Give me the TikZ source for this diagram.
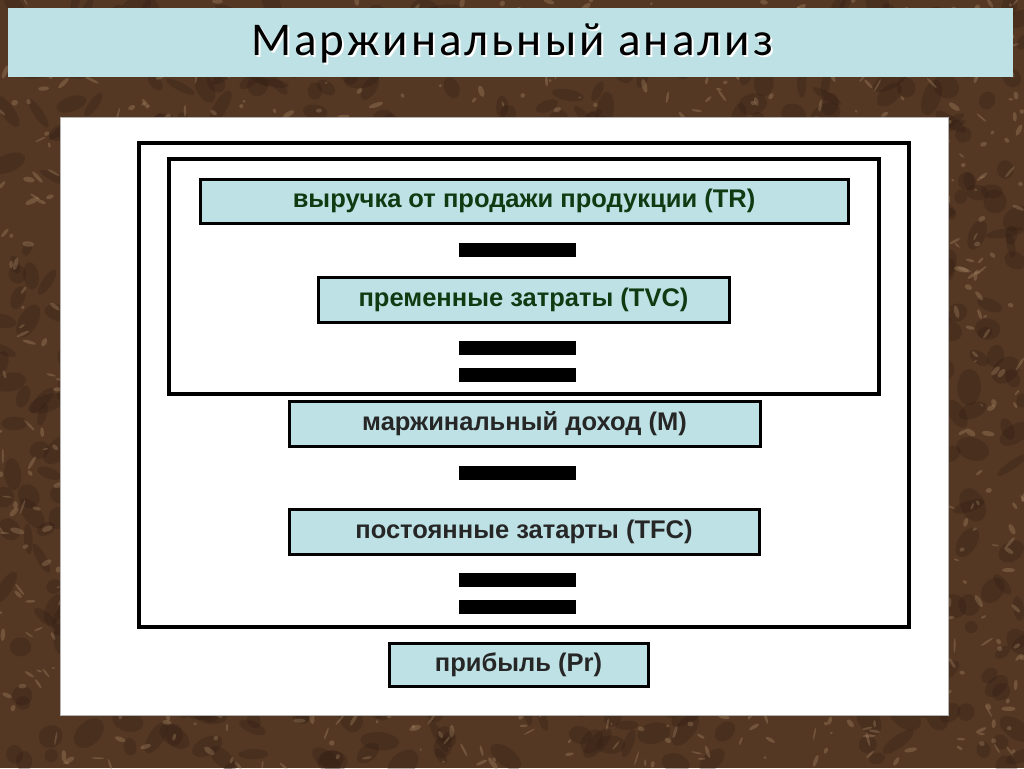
\documentclass[tikz,border=0pt]{standalone}
\usepackage{fontspec}
\setmainfont{Liberation Sans}
\newfontfamily\titlefont[LetterSpace=6.4]{Carlito}
\definecolor{bgbrown}{HTML}{553824}
\definecolor{marble}{HTML}{B39570}
\definecolor{darkmar}{HTML}{2E1C12}
\definecolor{boxblue}{HTML}{BDE1E4}
\definecolor{txtgreen}{HTML}{0F3A12}
\tikzset{
  termbox/.style={draw=black, line width=3pt, fill=boxblue, inner sep=0pt,
    font=\fontsize{25.5}{28}\selectfont\bfseries},
  eqbar/.style={fill=black, draw=none, minimum width=117pt, minimum height=14pt, inner sep=0pt},
  frame/.style={draw=black, line width=4pt},
}
\begin{document}
\begin{tikzpicture}[x=1pt,y=-1pt]
\useasboundingbox (0,0) rectangle (1024,768);
% background marble
\fill[bgbrown] (0,0) rectangle (1024,768);
\begin{scope}
\clip (0,0) rectangle (1024,768);
\pgfmathsetseed{42}
\foreach \i in {1,...,900}{
  \pgfmathsetmacro\px{rnd*1024}
  \pgfmathsetmacro\py{rnd*768}
  \pgfmathsetmacro\rx{6+rnd*14}
  \pgfmathsetmacro\ry{4+rnd*8}
  \pgfmathsetmacro\ang{rnd*180}
  \fill[darkmar, opacity=0.3, rotate around={\ang:(\px,\py)}] (\px,\py) ellipse ({\rx} and {\ry});
}
\foreach \i in {1,...,1400}{
  \pgfmathsetmacro\px{rnd*1024}
  \pgfmathsetmacro\py{rnd*768}
  \pgfmathsetmacro\rx{1.5+rnd*6}
  \pgfmathsetmacro\ry{0.8+rnd*2}
  \pgfmathsetmacro\ang{rnd*180}
  \fill[marble, opacity=0.3, rotate around={\ang:(\px,\py)}] (\px,\py) ellipse ({\rx} and {\ry});
}
\end{scope}
% title
\fill[boxblue] (8,8) rectangle (1013,77);
\node[text=white, font=\titlefont\fontsize{47}{50}\selectfont] at (514,45) {Маржинальный анализ};
\node (title) [text=black, font=\titlefont\fontsize{47}{50}\selectfont] at (512,43) {Маржинальный анализ};
% white panel
\fill[white] (60,117) rectangle (948,715);
\draw[gray!60, line width=0.8pt] (60,117) rectangle (948,715);
% frames
\draw[frame] (139,143) rectangle (909,627);
\draw[frame] (169,159) rectangle (879,394);
% boxes
\node (tr) [termbox, text=txtgreen, minimum width=648pt, minimum height=44pt] at (524,201) {выручка от продажи продукции (TR)};
\node (b1) [eqbar] at (517.5,250) {};
\node (tvc) [termbox, text=txtgreen, minimum width=411pt, minimum height=45pt] at (523.5,299.5) {пременные затраты (TVC)};
\node (b2) [eqbar] at (517.5,348) {};
\node (b3) [eqbar] at (517.5,375) {};
\node (m) [termbox, text=black!85, minimum width=471pt, minimum height=45pt] at (524.5,423.5) {маржинальный доход (М)};
\node (b4) [eqbar] at (517.5,473) {};
\node (tfc) [termbox, text=black!85, minimum width=470pt, minimum height=45pt] at (524,531.5) {постоянные затарты (TFC)};
\node (b5) [eqbar] at (517.5,580) {};
\node (b6) [eqbar] at (517.5,607) {};
\node (pr) [termbox, text=black!85, minimum width=259pt, minimum height=43pt] at (518.5,664.5) {прибыль (Pr)};
\end{tikzpicture}
\end{document}
